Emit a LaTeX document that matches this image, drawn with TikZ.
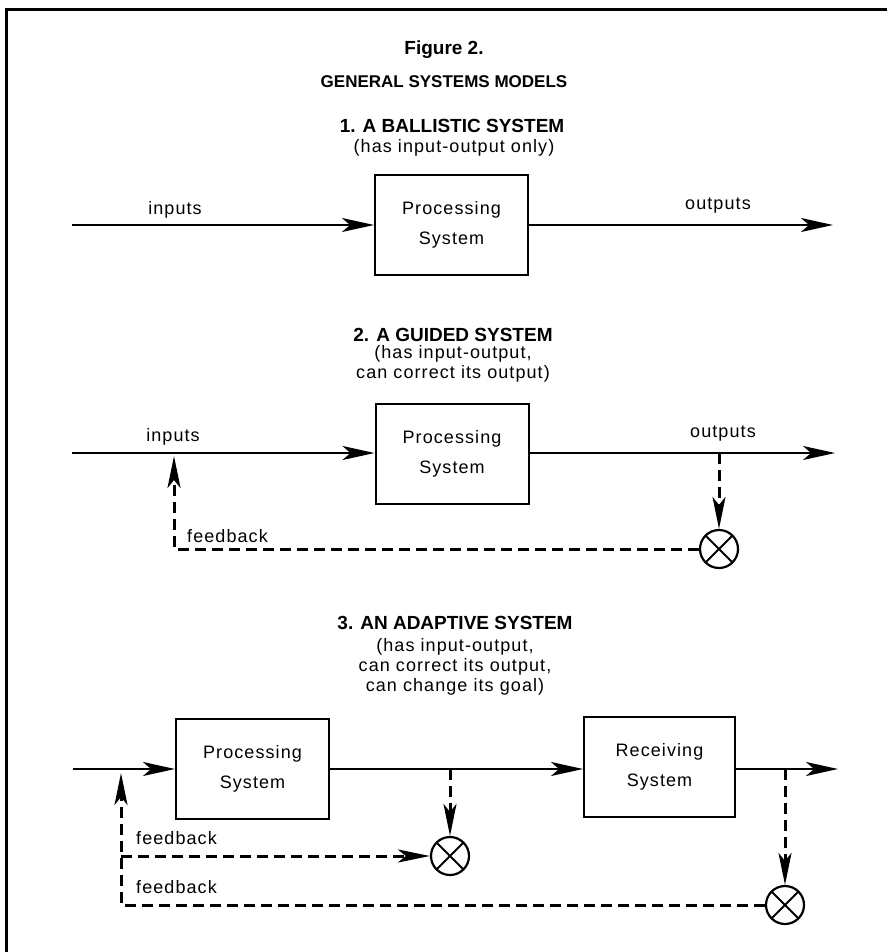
\documentclass[tikz,border=0pt]{standalone}
\usepackage{fontspec}
\setmainfont{Liberation Sans}
\newfontfamily\spacedfont[LetterSpace=6]{Liberation Sans}
\usetikzlibrary{positioning, arrows.meta}

\begin{document}
\begin{tikzpicture}
    [
        x=1pt, y=-1pt,
        sys_box/.style={rectangle, draw=black, line width=2pt, minimum width=153pt, minimum height=100pt, align=center, font=\spacedfont\fontsize{18}{30}\selectfont},
        flow_label/.style={inner sep=0pt, font=\spacedfont\fontsize{18}{20}\selectfont},
        head_text/.style={inner sep=0pt, font=\bfseries\fontsize{17}{20}\selectfont},
        title_text/.style={inner sep=0pt, font=\bfseries\fontsize{19}{22}\selectfont},
        sub_text/.style={inner sep=0pt, align=center, font=\spacedfont\fontsize{18}{20}\selectfont},
        comparator/.style={circle, draw=black, line width=2.2pt, minimum size=38pt, inner sep=0pt,
            path picture={\draw[line width=2pt] (path picture bounding box.north west) -- (path picture bounding box.south east)
                (path picture bounding box.north east) -- (path picture bounding box.south west);}},
        flow/.style={-{Stealth[length=32pt, width=14pt, inset=8pt]}, line width=2pt},
        fb/.style={dash pattern=on 11pt off 6pt, line width=3pt},
        fb_arrow/.style={fb, -{Stealth[length=32pt, width=13pt, inset=8pt]}},
    ]
        \useasboundingbox (0,0) rectangle (887,952);
        \draw[line width=3pt] (6,952) -- (6,10) -- (887,10);

        \node[head_text, font=\bfseries\fontsize{19}{22}\selectfont] (fig) at (444,50) {Figure 2.};
        \node[head_text] (models) at (444,82) {GENERAL SYSTEMS MODELS};

        % 1. ballistic
        \node[title_text] (ttl1) at (452,126) {1. A BALLISTIC SYSTEM};
        \node[sub_text] (sub1) at (454,148) {(has input-output only)};
        \coordinate (in1) at (72,225);
        \node[sys_box] (proc1) at (451.5,225) {Processing\\System};
        \coordinate (out1) at (833,225);
        \draw[flow] (in1) -- (proc1);
        \draw[flow] (proc1) -- (out1);
        \node[flow_label] (inlbl1) at (175,210) {inputs};
        \node[flow_label] (outlbl1) at (718,206) {outputs};

        % 2. guided
        \node[title_text] (ttl2) at (453,335) {2. A GUIDED SYSTEM};
        \node[sub_text] (sub2) at (453,364) {(has input-output,\\can correct its output)};
        \coordinate (in2) at (72,453);
        \node[sys_box] (proc2) at (452,454) {Processing\\System};
        \coordinate (out2) at (835,453);
        \coordinate (tap2) at (719,453);
        \node[comparator] (cmp2) at (719,549) {};
        \coordinate (fbc2) at (174,549);
        \coordinate (fbt2) at (174,456);
        \draw[flow] (in2) -- (proc2.west |- in2);
        \draw[flow] (proc2.east |- out2) -- (out2);
        \draw[fb_arrow] (tap2) -- (cmp2);
        \draw[fb_arrow] (cmp2) -- (fbc2) -- (fbt2);
        \node[flow_label] (inlbl2) at (173,437) {inputs};
        \node[flow_label] (outlbl2) at (723,434) {outputs};
        \node[flow_label, anchor=west] (fblbl2) at (187,536) {feedback};

        % 3. adaptive
        \node[title_text] (ttl3) at (455,623) {3. AN ADAPTIVE SYSTEM};
        \node[sub_text] (sub3) at (455,667) {(has input-output,\\can correct its output,\\can change its goal)};
        \coordinate (in3) at (73,769);
        \node[sys_box] (proc3) at (252.5,769) {Processing\\System};
        \node[sys_box, minimum width=151pt] (recv3) at (659.5,767) {Receiving\\System};
        \coordinate (out3) at (838,769);
        \coordinate (tap3a) at (450,769);
        \coordinate (tap3b) at (785,769);
        \node[comparator] (cmp3a) at (450,856) {};
        \node[comparator] (cmp3b) at (785,905) {};
        \coordinate (fbj3) at (121,856);
        \coordinate (fbc3) at (121,905);
        \coordinate (fbt3) at (121,773);
        \draw[flow] (in3) -- (proc3);
        \draw[flow] (proc3) -- (recv3.west |- proc3);
        \draw[flow] (recv3.east |- out3) -- (out3);
        \draw[fb_arrow] (tap3a) -- (cmp3a);
        \draw[fb_arrow] (tap3b) -- (cmp3b);
        \draw[fb_arrow] (fbj3) -- (cmp3a);
        \draw[fb_arrow] (cmp3b) -- (fbc3) -- (fbt3);
        \node[flow_label, anchor=west] (fblbl3a) at (136,838) {feedback};
        \node[flow_label, anchor=west] (fblbl3b) at (136,887) {feedback};
    \end{tikzpicture}
\end{document}
